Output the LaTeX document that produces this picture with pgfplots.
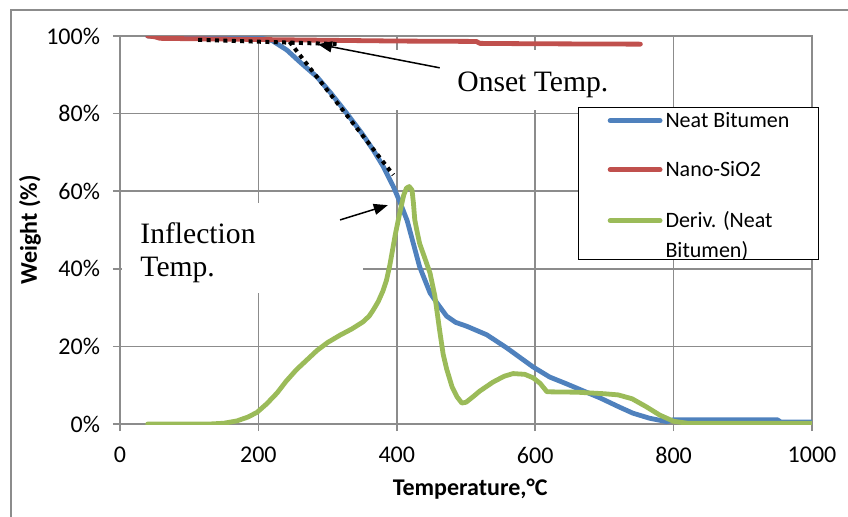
\documentclass[border=0pt]{standalone}
\usepackage{fontspec}
\setmainfont{Carlito}
\newfontfamily\annfont{Liberation Serif}
\usepackage{pgfplots}
\pgfplotsset{compat=1.18}
\usetikzlibrary{arrows.meta}

\definecolor{xlblue}{HTML}{4F81BD}
\definecolor{xlred}{HTML}{C0504D}
\definecolor{xlgreen}{HTML}{9BBB59}
\definecolor{gridgray}{HTML}{8C8C8C}

\tikzset{
    series/.style={line width=2.4pt, line join=round, line cap=round},
    tangent/.style={black, line width=2pt, dash pattern=on 2pt off 2.2pt},
    pointer/.style={-{Triangle[length=7pt,width=5.5pt]}, line width=0.75pt, black},
    annot/.style={font=\annfont\fontsize{14.8}{16.5}\selectfont, inner sep=0pt, anchor=base west},
    % legend text cells: height/depth fixed so the row pitch matches
    lcell/.style n args={2}{anchor=base west, inner sep=0pt, text height=#1, text depth=#2},
}

\begin{document}
\begin{tikzpicture}
\path[use as bounding box] (0,0) rectangle (424pt,258pt);
\clip (0,0) rectangle (424pt,258pt);
% chart area frame
\draw[gridgray, line width=0.8pt] (5.5pt,-5pt) -- (5.5pt,253pt) -- (430pt,253pt);
\begin{axis}[
    at={(60pt,46pt)}, anchor=south west,
    scale only axis, width=346pt, height=194pt,
    xmin=0, xmax=1000, ymin=0, ymax=100,
    xtick={0,200,...,1000}, xticklabels={0,200,400,600,800,1000},
    ytick={0,20,...,100}, yticklabels={0\%,20\%,40\%,60\%,80\%,100\%},
    grid=major, major grid style={gridgray, line width=0.8pt},
    axis line style={gridgray, line width=0.8pt},
    tick style={gridgray, line width=0.8pt},
    tick align=outside, major tick length=3.5pt,
    xtick pos=bottom, ytick pos=left,
    tick label style={font=\fontsize{12}{14}\selectfont},
    xticklabel style={yshift=-4.5pt},
    yticklabel style={xshift=-3pt},
    xlabel={Temperature,°C},
    ylabel={Weight (\%)},
    label style={font=\bfseries\fontsize{12}{14}\selectfont},
    xlabel style={at={(axis description cs:0.506,-0.168)}, anchor=center},
    ylabel style={at={(axis description cs:-0.13,0.5)}, anchor=center},
    legend style={at={(axis description cs:0.662,0.817)}, anchor=north west,
        draw=black, line width=0.6pt, fill=white,
        font=\fontsize{11}{15}\selectfont,
        inner xsep=14.5pt, inner ysep=0pt, row sep=0pt, column sep=1.5pt},
    legend image code/.code={
        \path (0pt,0pt);
        \draw[#1, line width=2.4pt, line cap=round] (0pt,3.5pt) -- (25pt,3.5pt);
    },
]

% Neat Bitumen
\addplot[series, xlblue] coordinates {
    (40,100) (150,100) (200,99.6) (220,98.8) (241,96.4) (260,93.3) (285,89.4)
    (305,85.2) (328,80) (350,74.8) (366,70.6) (380,66.5) (395,61.2) (405,57)
    (415,52.4) (425,45.8) (433,40.5) (448,33.8) (458,31.2) (472,27.8) (485,26.2)
    (501,25.2) (530,23) (559,19.6) (597,14.7) (621,12.1) (646,10.3) (670,8.5)
    (694,6.7) (720,4.5) (741,2.8) (765,1.5) (790,0.6) (800,1.1) (950,1.1)
    (955,0.5) (1000,0.5)
};
\addlegendentry[lcell={10pt}{10pt}]{Neat Bitumen}

% Nano-SiO2
\addplot[series, xlred] coordinates {
    (40,100) (50,99.8) (58,99.4) (100,99.3) (200,99.1) (300,98.9) (400,98.7)
    (515,98.6) (520,98.1) (600,98.0) (752,97.9)
};
\addlegendentry[lcell={14.5pt}{10pt}]{Nano-SiO2}

% derivative of neat bitumen
\addplot[series, xlgreen] coordinates {
    (40,0) (130,0) (150,0.2) (169,0.8) (185,1.8) (198,3) (212,5.2) (227,8)
    (240,11) (255,14) (270,16.5) (285,19) (300,21) (318,22.9) (335,24.5)
    (351,26.3) (360,27.8) (366,29.4) (373,31.5) (380,34.3) (385,37) (390,41)
    (398,49) (405,55) (410,59) (414,60.8) (418,61.2) (422,60.3) (424,57)
    (426,52.6) (430,49) (433,46.5) (440,43) (448,38.9) (455,33) (462,24)
    (467,18) (472,14.2) (480,9.5) (487,7) (494,5.4) (500,5.6) (510,7) (520,8.5)
    (539,10.8) (555,12.3) (568,13) (585,12.8) (597,11.9) (607,10.5) (617,8.3)
    (660,8.2) (700,7.8) (720,7.5) (740,6.5) (760,4.5) (780,2.3) (800,0.7)
    (820,0.2) (1000,0.2)
};
\addlegendentry[lcell={15.5pt}{4pt}]{Deriv. (Neat}
\addlegendimage{empty legend}
\addlegendentry[lcell={11pt}{1pt}]{Bitumen)}

% text boxes and tangent lines
\fill[white] (axis cs:3,33.8) rectangle (axis cs:351,57);
\fill[white] (axis cs:383,80.9) rectangle (axis cs:730,96.5);
\node[annot] at (axis cs:29,46.6) {\vtop{\hbox{Inflection}\hbox{Temp.}}};
\node[annot] at (axis cs:487,85.6) {Onset Temp.};
\draw[tangent] (axis cs:113,99) -- (axis cs:318,97.9);
\draw[tangent] (axis cs:245,98.5) -- (axis cs:395,64.2);
\draw[pointer] (axis cs:462,91.8) -- (axis cs:286,97.9);
\draw[pointer] (axis cs:318,52.6) -- (axis cs:387,56.4);
\end{axis}
\end{tikzpicture}
\end{document}
